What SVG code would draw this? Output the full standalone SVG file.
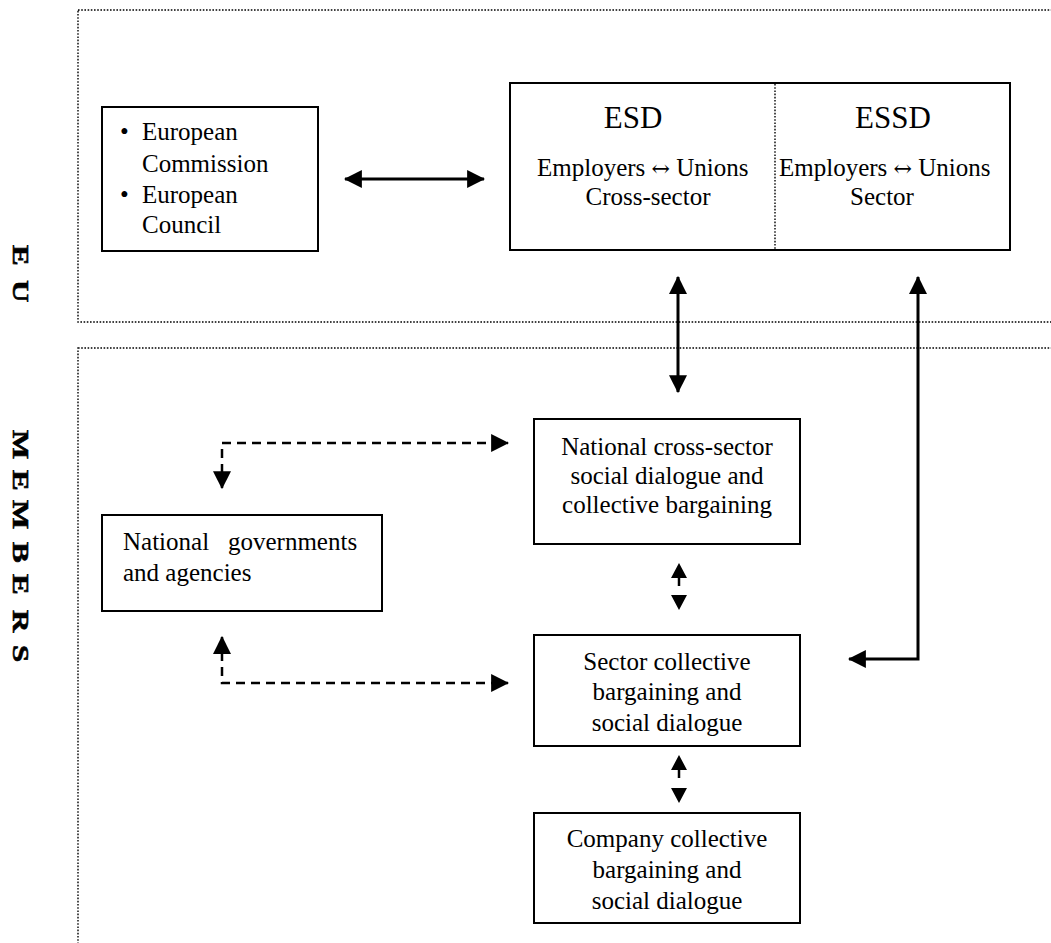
<svg xmlns="http://www.w3.org/2000/svg" width="1051" height="943" viewBox="0 0 1051 943">
<style>
  .region{fill:none;stroke:#000;stroke-width:1.4;stroke-dasharray:1.6 1.6}
  .box{fill:#fff;stroke:#000;stroke-width:2}
  .t{font-family:"Liberation Serif","Times New Roman",serif;font-size:25px;fill:#000}
  .c{text-anchor:middle}
  .h{font-family:"Liberation Serif","Times New Roman",serif;font-size:31px;fill:#000;text-anchor:middle}
  .lab{font-family:"Liberation Serif","Times New Roman",serif;font-size:23px;font-weight:bold;fill:#000;stroke:#000;stroke-width:0.6}
  .ar{font-family:"DejaVu Serif",serif;font-size:22px}
  .solid{fill:none;stroke:#000;stroke-width:3}
  .dash{fill:none;stroke:#000;stroke-width:2.5;stroke-dasharray:9 6}
  .head{fill:#000}
</style>
<defs>
  <marker id="arr" markerUnits="userSpaceOnUse" markerWidth="18" markerHeight="18" viewBox="0 0 16 16" refX="15" refY="8" orient="auto-start-reverse">
    <path d="M0,0 L16,8 L0,16 Z" fill="#000"/>
  </marker>
</defs>

<g id="regions">
  <rect class="region" x="78" y="10" width="990" height="312"/>
  <rect class="region" x="78" y="348" width="990" height="620"/>
  <text class="lab" transform="translate(13,245) rotate(90) scale(1.35,1)" x="0 12 26">E U</text>
  <text class="lab" transform="translate(13,430) rotate(90) scale(1.35,1)" x="0 22 29.6 41 51.8 67 82.9 95 106.7 119 133.3 146 159.3">M E M B E R S</text>
</g>

<g id="connectors">
  <line class="solid" x1="345" y1="179" x2="484" y2="179" marker-start="url(#arr)" marker-end="url(#arr)"/>
  <line class="solid" x1="678" y1="277" x2="678" y2="392" marker-start="url(#arr)" marker-end="url(#arr)"/>
  <polyline class="solid" points="918,277 918,659 849,659" marker-start="url(#arr)" marker-end="url(#arr)"/>
  <polyline class="dash" points="222,488 222,443 508,443" marker-start="url(#arr)" marker-end="url(#arr)"/>
  <polyline class="dash" points="222,637 222,683 508,683" marker-start="url(#arr)" marker-end="url(#arr)"/>
  <polygon class="head" points="679,563 671,578 687,578"/>
  <line x1="679" y1="577" x2="679" y2="586" stroke="#000" stroke-width="2.5"/>
  <polygon class="head" points="679,610 671,595 687,595"/>
  <polygon class="head" points="679,755 671,770 687,770"/>
  <line x1="679" y1="769" x2="679" y2="778" stroke="#000" stroke-width="2.5"/>
  <polygon class="head" points="679,803 671,788 687,788"/>
</g>

<g id="eu-institutions">
  <rect class="box" x="102" y="107" width="216" height="144"/>
  <text class="t" x="120" y="140">•</text>
  <text class="t" x="142" y="140">European</text>
  <text class="t" x="142" y="172">Commission</text>
  <text class="t" x="120" y="203">•</text>
  <text class="t" x="142" y="203">European</text>
  <text class="t" x="142" y="233">Council</text>
</g>

<g id="esd-essd">
  <rect class="box" x="510" y="83" width="500" height="167"/>
  <line class="region" x1="775" y1="84" x2="775" y2="249"/>
  <text class="h" x="633" y="128">ESD</text>
  <text class="h" x="893" y="128">ESSD</text>
  <text class="t" x="537" y="176">Employers <tspan class="ar">↔</tspan> Unions</text>
  <text class="t c" x="648" y="205">Cross-sector</text>
  <text class="t" x="779" y="176">Employers <tspan class="ar">↔</tspan> Unions</text>
  <text class="t c" x="882" y="205">Sector</text>
</g>

<g id="national-cross-sector">
  <rect class="box" x="534" y="419" width="266" height="125"/>
  <text class="t c" x="667" y="455">National cross-sector</text>
  <text class="t c" x="667" y="484">social dialogue and</text>
  <text class="t c" x="667" y="513">collective bargaining</text>
</g>

<g id="national-governments">
  <rect class="box" x="102" y="515" width="280" height="96"/>
  <text class="t" x="123" y="550">National</text>
  <text class="t" x="228" y="550">governments</text>
  <text class="t" x="123" y="581">and agencies</text>
</g>

<g id="sector">
  <rect class="box" x="534" y="635" width="266" height="111"/>
  <text class="t c" x="667" y="670">Sector collective</text>
  <text class="t c" x="667" y="700">bargaining and</text>
  <text class="t c" x="667" y="731">social dialogue</text>
</g>

<g id="company">
  <rect class="box" x="534" y="813" width="266" height="110"/>
  <text class="t c" x="667" y="847">Company collective</text>
  <text class="t c" x="667" y="878">bargaining and</text>
  <text class="t c" x="667" y="909">social dialogue</text>
</g>
</svg>
